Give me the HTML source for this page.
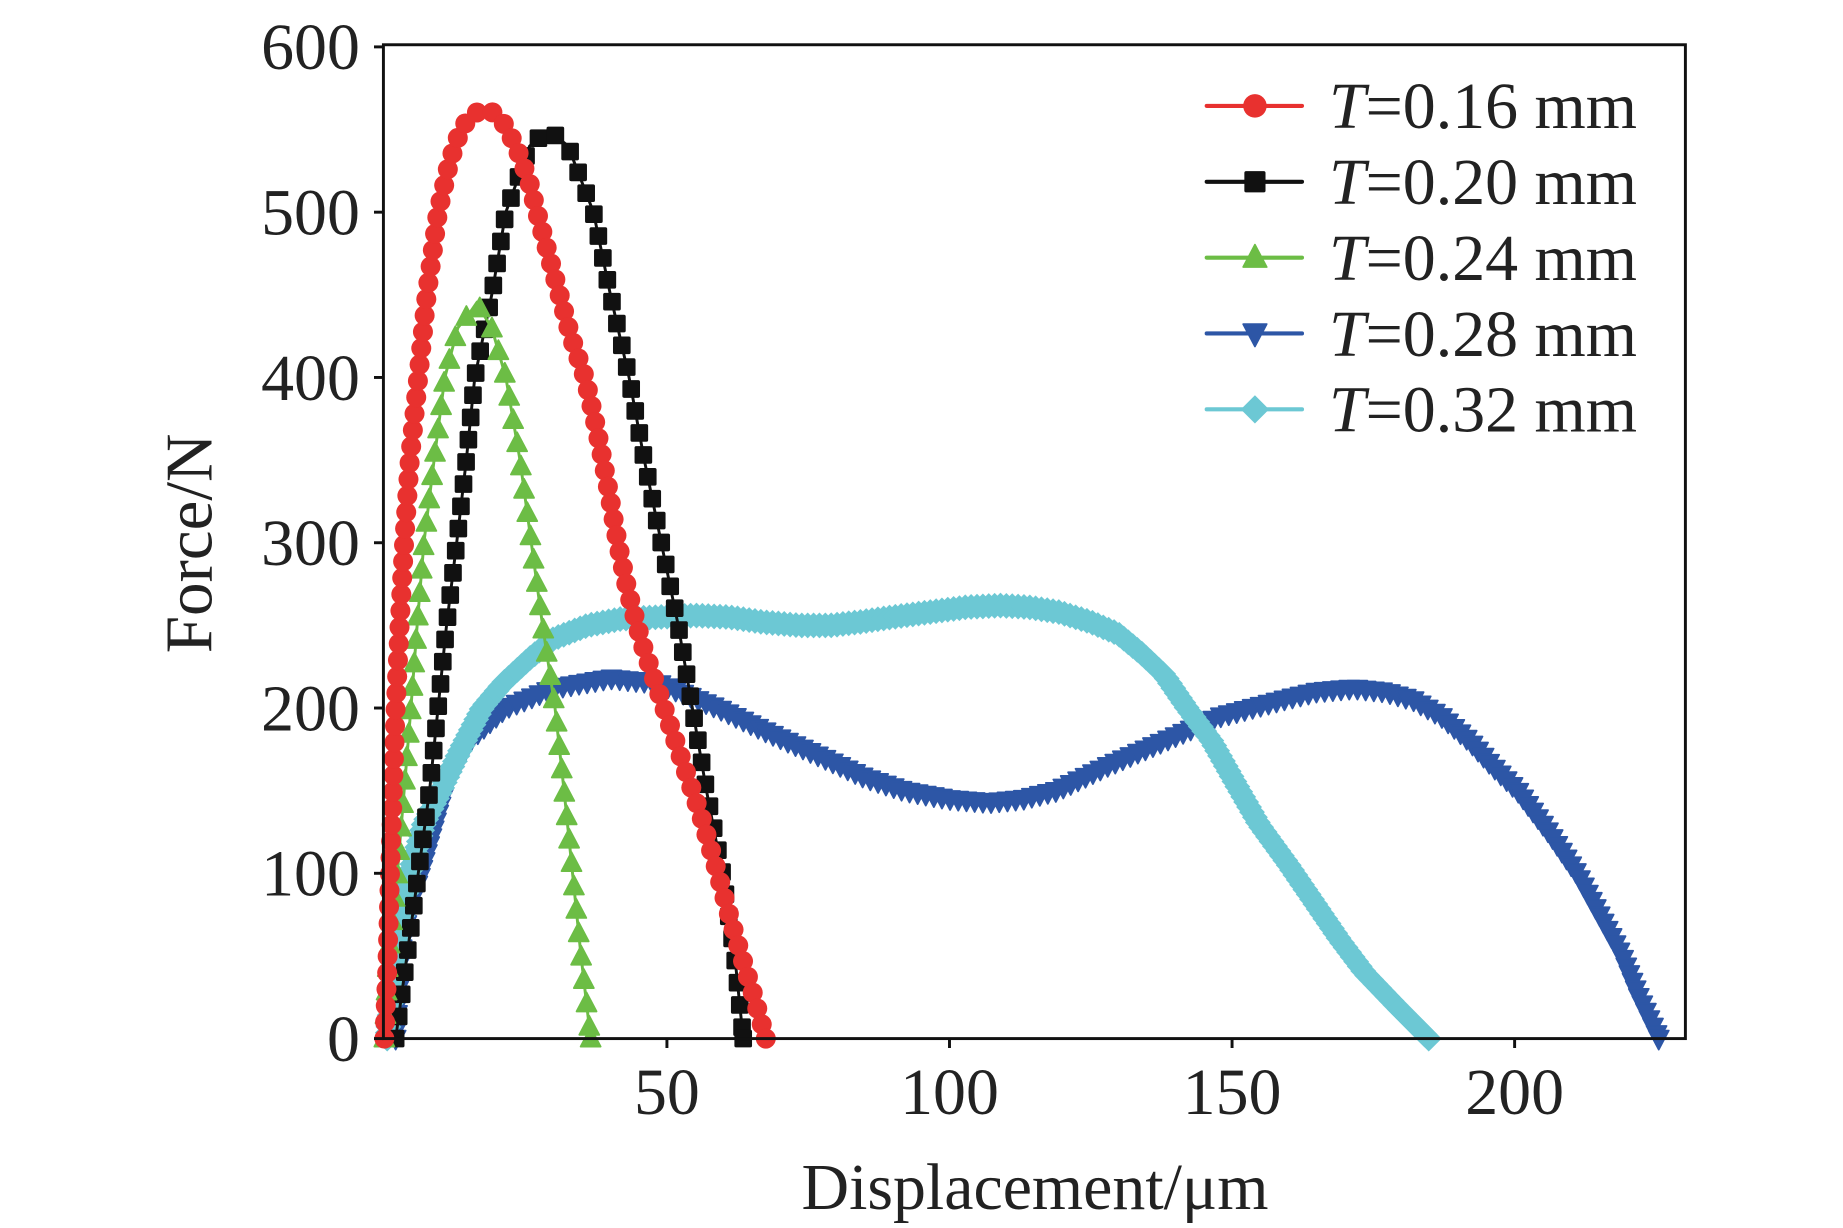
<!DOCTYPE html>
<html><head><meta charset="utf-8"><style>
html,body{margin:0;padding:0;background:#fff;}
svg{display:block;font-family:"Liberation Serif",serif;}
</style></head><body>
<svg id="chart" width="1843" height="1228" viewBox="0 0 1567 1044" xmlns="http://www.w3.org/2000/svg">
<rect width="1567" height="1044" fill="#fff"/>
<g id="series"></g>
<rect x="326" y="38" width="1107" height="845" fill="none" stroke="#111" stroke-width="2.5"/>
<g id="axes"></g>
<text x="880" y="1028" font-size="56" text-anchor="middle" fill="#222">Displacement/μm</text>
<text transform="translate(180,462) rotate(-90)" font-size="57" text-anchor="middle" fill="#222">Force/N</text>
<g id="legend"></g>
</svg>
<script>
const xTicks=[50,100,150,200];
const yTicks=[0,100,200,300,400,500,600];
const seriesNames=["T=0.16 mm","T=0.20 mm","T=0.24 mm","T=0.28 mm","T=0.32 mm"];
const x016=[0,0.5,1,1.5,2,2.7,3.5,4.5,6,7.5,9.5,11.5,13.5,15.5,17.5,19.5,21.5,23.5,25.5,27,29,31,33,35.5,37.5,39.5,41.3,43,45.5,47.5,49.5,52,54,56,59,61,63,65,67.5];
const y016=[0,40,100,150,200,250,300,350,400,450,500,530,550,559,562,560,552,538,520,500,475,450,425,400,370,335,300,272,240,220,200,175,155,135,100,75,52,30,0];
const x020=[2,4,6,8,9.5,11,12.8,14.5,16,19,21.5,25.7,29,32.5,37,40,43.3,46,49,52,54.5,57,59.8,62,63.5];
const y020=[0,50,100,150,200,250,300,350,400,450,500,540,550,540,500,450,400,350,300,250,200,150,100,50,0];
const x024=[0,0.7,2.3,3.5,4.7,5.8,7,8.8,10.7,13,15.3,16.3,19,21.5,24,26,28,30.2,31.8,33.3,34.8,36.5];
const y024=[0,50,100,150,200,250,300,350,400,430,440,445,430,400,350,300,250,200,150,100,50,0];
const x028=[2,2.8,4.5,6.5,10.7,15,21.5,30,40,48.5,59,68,77.6,85,92,100,107,113,119,128,138,148,159,165,171.5,177,182,187,192,196,200.5,206,211,215,219,222,225.5];
const y028=[0,50,80,100,150,180,200,212,218,215,200,185,170,158,150,145,143,145,150,165,180,195,205,210,212,210,205,195,180,165,150,125,100,75,50,25,0];
const x032=[0.5,2,4.5,7,10,13.5,17.3,21,25.7,30,36,42,48.5,55,61,67,73.5,79,84,90,96.4,103,109,114,119.4,125,129.8,134,138,142,146.4,150.5,154.7,160,165,169,173.4,179,184.8];
const y032=[0,50,100,130,150,175,200,215,230,242,250,254,255,256,255,252,250,250,252,255,258,261,262,261,258,252,245,233,220,200,180,155,130,105,80,60,40,20,0];

const X=v=>326.8+v*4.805;
const Y=v=>883-v*1.4053;
const NS="http://www.w3.org/2000/svg";
function mk(tag,attrs,parent){const e=document.createElementNS(NS,tag);for(const k in attrs)e.setAttribute(k,attrs[k]);parent.appendChild(e);return e;}
const axes=document.getElementById('axes');
xTicks.forEach(t=>{
  const l=mk('line',{x1:X(t),x2:X(t),y1:883,y2:891,stroke:'#111','stroke-width':2.5},axes);
  
  
  const tx=mk('text',{x:X(t),y:947,'font-size':56,'text-anchor':'middle',fill:'#222'},axes);
  tx.textContent=t;
  
  
});
yTicks.forEach(t=>{
  const l=mk('line',{x1:318,x2:326,y1:Y(t),y2:Y(t),stroke:'#111','stroke-width':2.5},axes);
  
  
  const tx=mk('text',{x:306,y:Y(t)+19,'font-size':56,'text-anchor':'end',fill:'#222'},axes);
  tx.textContent=t;
  
  
});
function marker(shape,cx,cy,s,color,parent){
  let e;
  if(shape==='circle') e=mk('circle',{cx:cx,cy:cy,r:s,fill:color},parent);
  else if(shape==='square') e=mk('rect',{x:cx-s,y:cy-s,width:2*s,height:2*s,rx:1.5,fill:color},parent);
  else if(shape==='up') e=mk('polygon',{points:`${cx},${cy-s*1.1} ${cx+s},${cy+s*0.8} ${cx-s},${cy+s*0.8}`,fill:color,'stroke':color,'stroke-width':1.5,'stroke-linejoin':'round'},parent);
  else if(shape==='down') e=mk('polygon',{points:`${cx},${cy+s*1.1} ${cx+s},${cy-s*0.8} ${cx-s},${cy-s*0.8}`,fill:color,'stroke':color,'stroke-width':1.5,'stroke-linejoin':'round'},parent);
  else e=mk('polygon',{points:`${cx},${cy-s} ${cx+s},${cy} ${cx},${cy+s} ${cx-s},${cy}`,fill:color},parent);
  return e;
}
const seriesG=document.getElementById('series');
const defs=[
 {xs:x028,ys:y028,c:'#2d56a6',shape:'down',s:8.5,sp:7,name:'series-t028'},
 {xs:x032,ys:y032,c:'#6cc8d4',shape:'diamond',s:11,sp:5,name:'series-t032'},
 {xs:x020,ys:y020,c:'#111111',shape:'square',s:7.5,sp:19,name:'series-t020'},
 {xs:x024,ys:y024,c:'#6cbd45',shape:'up',s:8.5,sp:20,name:'series-t024'},
 {xs:x016,ys:y016,c:'#e8312f',shape:'circle',s:8.5,sp:14,name:'series-t016'}
];
defs.forEach(d=>{
  const g=mk('g',{},seriesG);
  
  
  const pts=d.xs.map((v,i)=>[X(v),Y(d.ys[i])]);
  const pl=mk('polyline',{points:pts.map(p=>p.join(',')).join(' '),fill:'none',stroke:d.c,'stroke-width':2.5},g);
  
  
  let acc=0;
  const place=(p)=>{const m=marker(d.shape,p[0],p[1],d.s,d.c,g);
    
    };
  place(pts[0]);
  for(let i=1;i<pts.length;i++){
    const dx=pts[i][0]-pts[i-1][0],dy=pts[i][1]-pts[i-1][1];
    const L=Math.hypot(dx,dy);let t=d.sp-acc;
    while(t<=L){place([pts[i-1][0]+dx*t/L,pts[i-1][1]+dy*t/L]);t+=d.sp;}
    acc=L-(t-d.sp);
  }
  place(pts[pts.length-1]);
});
const leg=document.getElementById('legend');
const legC=['#e8312f','#111111','#6cbd45','#2d56a6','#6cc8d4'];
const legS=['circle','square','up','down','diamond'];
seriesNames.forEach((n,i)=>{
  const y=90+i*64.5;
  const g=mk('g',{},leg);
  
  
  mk('line',{x1:1026,x2:1107,y1:y,y2:y,stroke:legC[i],'stroke-width':3.5,'stroke-linecap':'round'},g);
  marker(legS[i],1067,y,legS[i]==='diamond'?12:(legS[i]==='square'?9:10),legC[i],g);
  const t=mk('text',{x:1130,y:y+19,'font-size':56,fill:'#222'},g);
  const ts=mk('tspan',{'font-style':'italic'},t);ts.textContent='T';
  const ts2=mk('tspan',{},t);ts2.textContent=n.slice(1);
});
</script>
</body></html>
